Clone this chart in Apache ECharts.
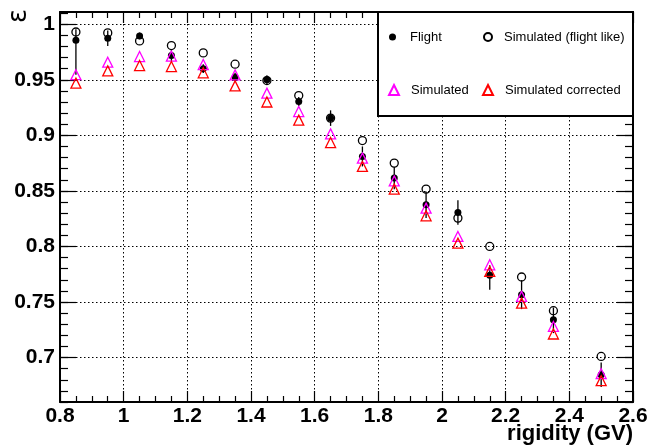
<!DOCTYPE html>
<html>
<head>
<meta charset="utf-8">
<script src="https://cdn.jsdelivr.net/npm/echarts@6/dist/echarts.min.js"></script>
<style>
html,body{margin:0;padding:0;background:#fff;}
#chart{width:651px;height:447px;}
</style>
</head>
<body>
<div id="chart"></div>
<script>
// ---- data ----
const rigidity = [0.85,0.95,1.05,1.15,1.25,1.35,1.45,1.55,1.65,1.75,1.85,1.95,2.05,2.15,2.25,2.35,2.5];
const flight = [0.9855,0.9874,0.9895,0.9718,0.9600,0.9523,0.9500,0.9304,0.9155,0.8810,0.8615,0.8375,0.8306,0.7740,0.7566,0.7340,0.6846];
const flightErrUp = [0.010,0.007,0.003,0.005,0.004,0.004,0.004,0.004,0.007,0.009,0.010,0.012,0.011,0.009,0.013,0.011,0.011];
const flightErrDown = [0.031,0.007,0.003,0.005,0.004,0.004,0.004,0.004,0.007,0.009,0.010,0.012,0.011,0.013,0.013,0.012,0.011];
const simFlightLike = [0.9930,0.9922,0.9850,0.9808,0.9742,0.9640,0.9493,0.9358,0.9155,0.8953,0.8750,0.8516,0.8255,0.8000,0.7725,0.7422,0.7010];
const simulated = [0.9546,0.9658,0.9709,0.9712,0.9637,0.9544,0.9380,0.9214,0.9013,0.8795,0.8590,0.8345,0.8090,0.7835,0.7550,0.7280,0.6855];
const simCorrected = [0.9470,0.9580,0.9628,0.9619,0.9563,0.9445,0.9300,0.9137,0.8935,0.8720,0.8516,0.8276,0.8030,0.7775,0.7490,0.7212,0.6792];
const yMajorTicks = [0.7,0.75,0.8,0.85,0.9,0.95,1.0];
const xName = 'rigidity (GV)';
const yName = 'ε';
const seriesNames = ['Flight','Simulated (flight like)','Simulated','Simulated corrected'];

const FONT = 'Liberation Sans, Arial, Helvetica, sans-serif';
const pairs = arr => rigidity.map((x,i)=>[x,arr[i]]);
const errData = rigidity.map((x,i)=>[x, flight[i]-flightErrDown[i], flight[i]+flightErrUp[i]]);

const chart = echarts.init(document.getElementById('chart'), null, {renderer:'canvas'});
const fmt = v => String(+(+v).toFixed(2));
const yMin = 0.66, yMax = 1.011;

const tickStyle = {color:'#000', width:1.2};
const legendText = pad => ({fontFamily:FONT, fontSize:13, color:'#000', lineHeight:16, padding:[0,0,0,pad]});
const option = {
  backgroundColor:'#fff',
  animation:false,
  grid:{left:60, top:12, right:18, bottom:45, containLabel:false, outerBoundsMode:'none'},
  xAxis:[
    {type:'value', position:'bottom', min:0.8, max:2.6, interval:0.2,
     axisLine:{onZero:false, lineStyle:{color:'#000', width:2}},
     axisTick:{inside:true, length:11, lineStyle:tickStyle},
     minorTick:{show:true, splitNumber:4, length:6, lineStyle:tickStyle},
     axisLabel:{margin:4, color:'#000', fontFamily:FONT, fontWeight:'bold', fontSize:21, formatter:fmt},
     splitLine:{show:true, lineStyle:{color:'#000', width:1, type:[1.5,2.5]}}},
    {type:'value', position:'top', min:0.8, max:2.6, interval:0.2,
     axisLine:{onZero:false, lineStyle:{color:'#000', width:2}},
     axisTick:{inside:true, length:11, lineStyle:tickStyle},
     minorTick:{show:true, splitNumber:4, length:6, lineStyle:tickStyle},
     axisLabel:{show:false}, splitLine:{show:false}}
  ],
  yAxis:[
    {type:'value', position:'left', min:yMin, max:yMax,
     axisLine:{onZero:false, lineStyle:{color:'#000', width:2}},
     axisTick:{inside:true, length:16, lineStyle:tickStyle, customValues:yMajorTicks},
     axisLabel:{margin:5, color:'#000', fontFamily:FONT, fontWeight:'bold', fontSize:21, formatter:fmt, customValues:yMajorTicks},
     splitLine:{show:true, lineStyle:{color:'#000', width:1, type:[1.5,2.5]}}},
    {type:'value', position:'left', min:yMin, max:yMax, interval:0.01,
     axisLine:{show:false},
     axisTick:{inside:true, length:8, lineStyle:tickStyle},
     axisLabel:{show:false}, splitLine:{show:false}},
    {type:'value', position:'right', min:yMin, max:yMax,
     axisLine:{onZero:false, lineStyle:{color:'#000', width:2}},
     axisTick:{inside:true, length:16, lineStyle:tickStyle, customValues:yMajorTicks},
     axisLabel:{show:false, customValues:yMajorTicks}, splitLine:{show:false}},
    {type:'value', position:'right', min:yMin, max:yMax, interval:0.01,
     axisLine:{show:false},
     axisTick:{inside:true, length:8, lineStyle:tickStyle},
     axisLabel:{show:false}, splitLine:{show:false}}
  ],
  legend:[
    {data:[seriesNames[0]], left:389, top:29, padding:0, itemWidth:7, itemHeight:7, z:60, textStyle:legendText(9)},
    {data:[seriesNames[1]], left:483, top:29, padding:0, itemWidth:8, itemHeight:8, z:60, textStyle:legendText(7)},
    {data:[seriesNames[2]], left:388, top:82, padding:0, itemWidth:10, itemHeight:10, z:60, textStyle:legendText(7)},
    {data:[seriesNames[3]], left:482, top:82, padding:0, itemWidth:10, itemHeight:10, z:60, textStyle:legendText(7)}
  ],
  graphic:{elements:[
    {type:'rect', z:50, shape:{x:378, y:12, width:255, height:104},
     style:{fill:'#fff', stroke:'#000', lineWidth:2}},
    {type:'text', z:50, x:19, y:16, rotation:Math.PI/2,
     style:{text:yName, font:'26px DejaVu Sans', fill:'#000', align:'center', verticalAlign:'middle'}},
    {type:'text', z:50, x:633, y:434,
     style:{text:xName, font:'bold 22px ' + FONT, fill:'#000', align:'right', verticalAlign:'middle'}}
  ]},
  series:[
    {name:'flightErr', type:'custom', xAxisIndex:0, yAxisIndex:0, z:2, silent:true,
     data:errData,
     renderItem:function(params, api){
       const p1 = api.coord([api.value(0), api.value(1)]);
       const p2 = api.coord([api.value(0), api.value(2)]);
       return {type:'line', shape:{x1:p1[0], y1:p1[1], x2:p2[0], y2:p2[1]},
               style:{stroke:'#000', lineWidth:1.3}};
     }},
    {name:seriesNames[0], type:'scatter', xAxisIndex:0, yAxisIndex:0, z:3, symbol:'circle', symbolSize:7,
     itemStyle:{color:'#000', opacity:1}, data:pairs(flight)},
    {name:seriesNames[1], type:'scatter', xAxisIndex:0, yAxisIndex:0, z:3, symbol:'circle', symbolSize:8,
     itemStyle:{color:'rgba(0,0,0,0)', borderColor:'#000', borderWidth:1.3, opacity:1}, data:pairs(simFlightLike)},
    {name:seriesNames[2], type:'scatter', xAxisIndex:0, yAxisIndex:0, z:4, symbol:'triangle', symbolSize:10,
     itemStyle:{color:'rgba(0,0,0,0)', borderColor:'#ff00ff', borderWidth:1.3, opacity:1}, data:pairs(simulated)},
    {name:seriesNames[3], type:'scatter', xAxisIndex:0, yAxisIndex:0, z:4, symbol:'triangle', symbolSize:10,
     itemStyle:{color:'rgba(0,0,0,0)', borderColor:'#ff0000', borderWidth:1.3, opacity:1}, data:pairs(simCorrected)}
  ]
};
chart.setOption(option);
</script>
</body>
</html>
